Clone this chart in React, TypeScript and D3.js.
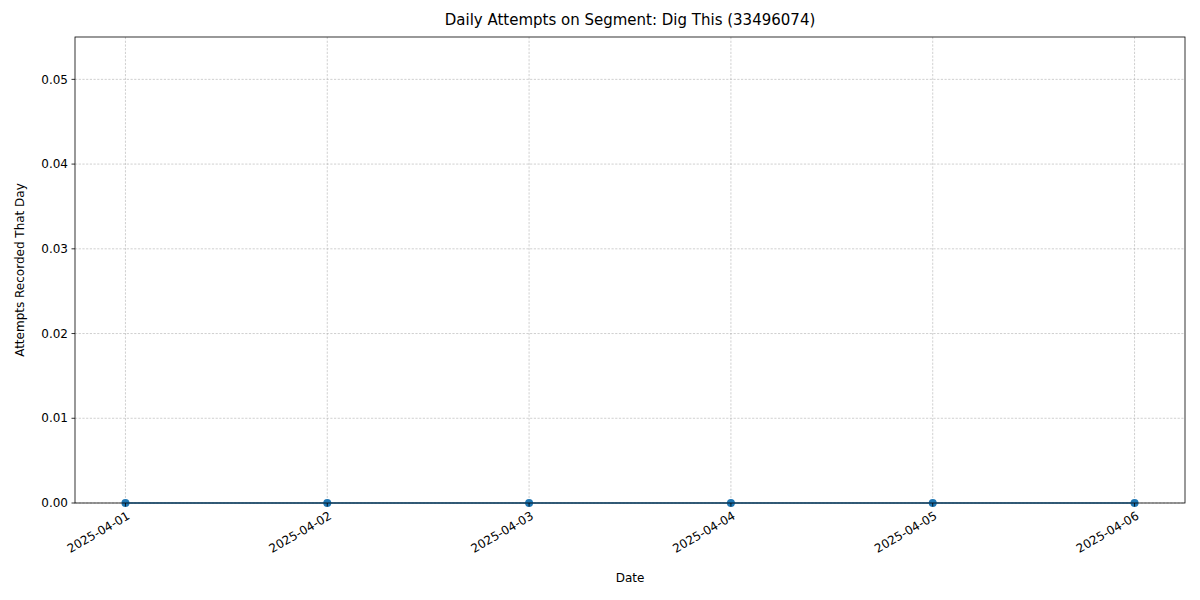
import React, { useEffect } from "react";
import * as d3 from "d3";

const dates = ["2025-04-01", "2025-04-02", "2025-04-03", "2025-04-04", "2025-04-05", "2025-04-06"];
const attempts = [0, 0, 0, 0, 0, 0];
const yTicks = [0, 0.01, 0.02, 0.03, 0.04, 0.05];

const W = 1200, H = 600;
const m = { l: 75, r: 15, t: 37, b: 97 };

export default function App() {
  useEffect(() => { document.body.style.margin = "0"; }, []);
  const parse = d3.utcParse("%Y-%m-%d");
  const pts = dates.map((d, i) => ({ x: parse(d)!, y: attempts[i] }));
  const x0 = pts[0].x.getTime(), x1 = pts[pts.length - 1].x.getTime();
  const pad = (x1 - x0) * 0.05;
  const x = d3.scaleUtc().domain([x0 - pad, x1 + pad]).range([m.l, W - m.r]);
  const y = d3.scaleLinear().domain([0, 0.055]).range([H - m.b, m.t]);
  const line = d3.line<{ x: Date; y: number }>().x(d => x(d.x)).y(d => y(d.y));
  const font = "DejaVu Sans, sans-serif";
  const fmt = d3.utcFormat("%Y-%m-%d");
  return (
    <svg width={W} height={H} style={{ display: "block", fontFamily: font }}>
      <rect width={W} height={H} fill="#fff" />
      {pts.map((p, i) => (
        <line key={"gx" + i} x1={x(p.x)} x2={x(p.x)} y1={m.t} y2={H - m.b} stroke="#b0b0b0" strokeWidth={0.6} strokeDasharray="2.2,1.5" />
      ))}
      {yTicks.map((t, i) => (
        <line key={"gy" + i} x1={m.l} x2={W - m.r} y1={y(t)} y2={y(t)} stroke="#b0b0b0" strokeWidth={0.6} strokeDasharray="2.2,1.5" />
      ))}
      <path d={line(pts)!} fill="none" stroke="#1f77b4" strokeWidth={1.5} />
      {pts.map((p, i) => (
        <circle key={"c" + i} cx={x(p.x)} cy={y(p.y)} r={4} fill="#1f77b4" />
      ))}
      <rect x={m.l} y={m.t} width={W - m.l - m.r} height={H - m.t - m.b} fill="none" stroke="#000" strokeWidth={0.8} />
      {yTicks.map((t, i) => (
        <g key={"yt" + i}>
          <line x1={m.l - 3.5} x2={m.l} y1={y(t)} y2={y(t)} stroke="#000" strokeWidth={0.8} />
          <text x={m.l - 7} y={y(t)} dy="0.35em" textAnchor="end" fontSize={12}>{t.toFixed(2)}</text>
        </g>
      ))}
      {pts.map((p, i) => (
        <g key={"xt" + i}>
          <line x1={x(p.x)} x2={x(p.x)} y1={H - m.b} y2={H - m.b + 3.5} stroke="#000" strokeWidth={0.8} />
          <text transform={`translate(${x(p.x) + 1},${H - m.b + 8}) rotate(-30)`} textAnchor="end" dy="0.7em" fontSize={12}>{fmt(p.x)}</text>
        </g>
      ))}
      <text x={(m.l + W - m.r) / 2} y={25} textAnchor="middle" fontSize={15}>Daily Attempts on Segment: Dig This (33496074)</text>
      <text x={(m.l + W - m.r) / 2} y={582} textAnchor="middle" fontSize={12}>Date</text>
      <text transform={`translate(24,${(m.t + H - m.b) / 2}) rotate(-90)`} textAnchor="middle" fontSize={12}>Attempts Recorded That Day</text>
    </svg>
  );
}
